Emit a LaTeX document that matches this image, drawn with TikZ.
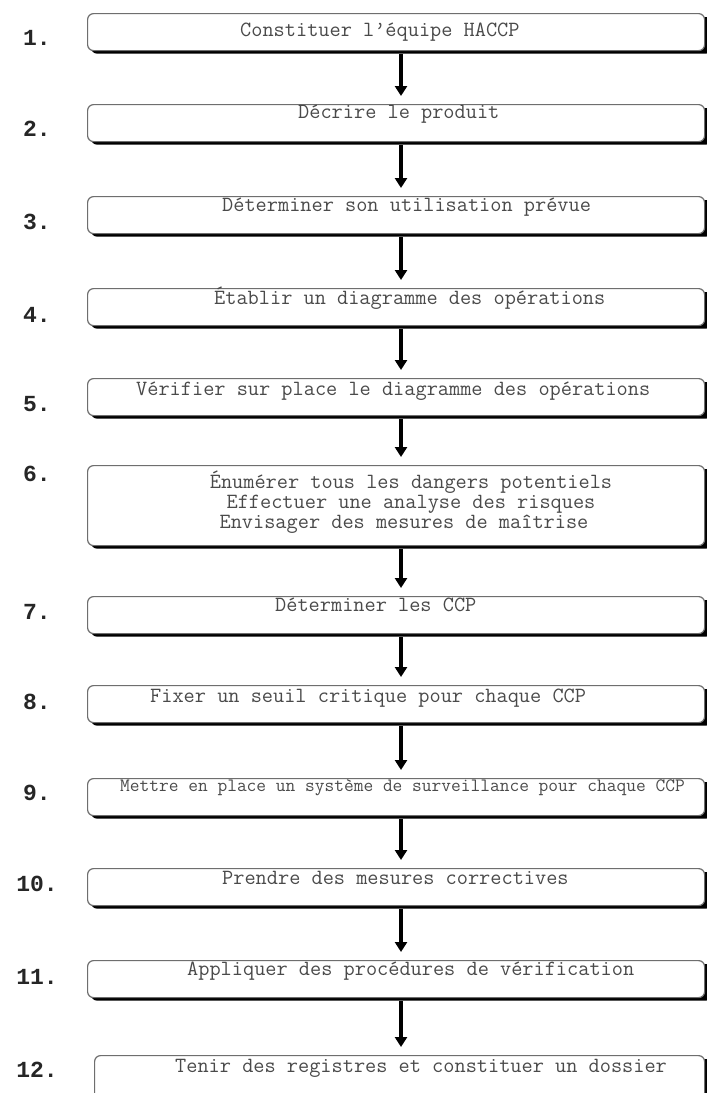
\documentclass[tikz,border=0pt]{standalone}
\usepackage{fontspec}
\newfontfamily\numfont{Liberation Mono}
\usetikzlibrary{arrows.meta}
\definecolor{boxtext}{HTML}{4A4A4A}
\definecolor{boxline}{HTML}{6E6E6E}
\definecolor{numtext}{HTML}{262626}
\tikzset{
  stepbox/.style={draw=boxline, line width=1.2pt, rounded corners=6pt, fill=white,
    minimum width=617pt, minimum height=37pt, anchor=north west, inner sep=0pt},
  shadowfill/.style={fill=black, rounded corners=6pt},
  steptext/.style={font=\ttfamily\fontsize{21.7}{19}\selectfont, text=boxtext,
    inner sep=0pt, text height=13pt, text depth=4pt, anchor=west},
  stepnum/.style={font=\numfont\bfseries\fontsize{23}{23}\selectfont, text=numtext, inner sep=0pt},
  flow/.style={line width=4pt, -{Triangle[width=12pt,length=10pt]}}
}
% solid shadow behind a box: left edge, top and bottom of the box
\newcommand{\stepshadow}[3]{\fill[shadowfill] ({#1+4},{#2+4}) rectangle (712,{#3+3.6});}
\begin{document}
\begin{tikzpicture}[x=1pt,y=-1pt]
\useasboundingbox (0,0) rectangle (707,1093);

% shadows, drawn first so that the boxes cover all but their lower right rim
\stepshadow{87}{13}{50}
\stepshadow{87}{104}{141}
\stepshadow{87}{196}{233}
\stepshadow{87}{288}{325}
\stepshadow{87}{378}{415}
\stepshadow{87}{465}{545}
\stepshadow{87}{596}{633}
\stepshadow{87}{685}{722}
\stepshadow{87}{778}{815}
\stepshadow{87}{868}{905}
\stepshadow{87}{960}{997}
\stepshadow{94}{1055}{1100}

% step boxes
\node[stepbox] (b1) at (87,13) {};
\node[stepbox] (b2) at (87,104) {};
\node[stepbox] (b3) at (87,196) {};
\node[stepbox] (b4) at (87,288) {};
\node[stepbox] (b5) at (87,378) {};
\node[stepbox, minimum height=80pt] (b6) at (87,465) {};
\node[stepbox] (b7) at (87,596) {};
\node[stepbox] (b8) at (87,685) {};
\node[stepbox] (b9) at (87,778) {};
\node[stepbox] (b10) at (87,868) {};
\node[stepbox] (b11) at (87,960) {};
\node[stepbox, minimum width=610pt, minimum height=45pt] (b12) at (94,1055) {};

% texts inside the boxes
\node[steptext] (t1) at (240,32) {Constituer l’équipe HACCP};
\node[steptext] (t2) at (298,114) {Décrire le produit};
\node[steptext] (t3) at (222,207) {Déterminer son utilisation prévue};
\node[steptext] (t4) at (214,300) {Établir un diagramme des opérations};
\node[steptext] (t5) at (136,391) {Vérifier sur place le diagramme des opérations};
\node[steptext, anchor=center] (t6a) at (411,484) {Énumérer tous les dangers potentiels};
\node[steptext, anchor=center] (t6b) at (411,504) {Effectuer une analyse des risques};
\node[steptext, anchor=center] (t6c) at (404,524) {Envisager des mesures de maîtrise};
\node[steptext] (t7) at (275,607) {Déterminer les CCP};
\node[steptext] (t8) at (150,698) {Fixer un seuil critique pour chaque CCP};
\node[steptext, font=\ttfamily\fontsize{18.9}{19}\selectfont] (t9) at (120,787) {Mettre en place un système de surveillance pour chaque CCP};
\node[steptext] (t10) at (222,880) {Prendre des mesures correctives};
\node[steptext] (t11) at (187,971) {Appliquer des procédures de vérification};
\node[steptext] (t12) at (175,1068) {Tenir des registres et constituer un dossier};

% step numbers
\node[stepnum] (n1) at (37,38) {1.};
\node[stepnum] (n2) at (37,129) {2.};
\node[stepnum] (n3) at (37,222) {3.};
\node[stepnum] (n4) at (37,315) {4.};
\node[stepnum] (n5) at (37,404) {5.};
\node[stepnum] (n6) at (37,474) {6.};
\node[stepnum] (n7) at (37,612) {7.};
\node[stepnum] (n8) at (37,702) {8.};
\node[stepnum] (n9) at (37,793) {9.};
\node[stepnum] (n10) at (37,884) {10.};
\node[stepnum] (n11) at (37,977) {11.};
\node[stepnum] (n12) at (37,1070) {12.};

% arrows between the steps
\coordinate (ax) at (401,0);
\draw[flow] ([yshift=-3pt]b1.south -| ax) -- ([yshift=8pt]b2.north -| ax);
\draw[flow] ([yshift=-3pt]b2.south -| ax) -- ([yshift=8pt]b3.north -| ax);
\draw[flow] ([yshift=-3pt]b3.south -| ax) -- ([yshift=8pt]b4.north -| ax);
\draw[flow] ([yshift=-3pt]b4.south -| ax) -- ([yshift=8pt]b5.north -| ax);
\draw[flow] ([yshift=-3pt]b5.south -| ax) -- ([yshift=8pt]b6.north -| ax);
\draw[flow] ([yshift=-3pt]b6.south -| ax) -- ([yshift=8pt]b7.north -| ax);
\draw[flow] ([yshift=-3pt]b7.south -| ax) -- ([yshift=8pt]b8.north -| ax);
\draw[flow] ([yshift=-3pt]b8.south -| ax) -- ([yshift=8pt]b9.north -| ax);
\draw[flow] ([yshift=-3pt]b9.south -| ax) -- ([yshift=8pt]b10.north -| ax);
\draw[flow] ([yshift=-3pt]b10.south -| ax) -- ([yshift=8pt]b11.north -| ax);
\draw[flow] ([yshift=-3pt]b11.south -| ax) -- ([yshift=8pt]b12.north -| ax);
\end{tikzpicture}
\end{document}
